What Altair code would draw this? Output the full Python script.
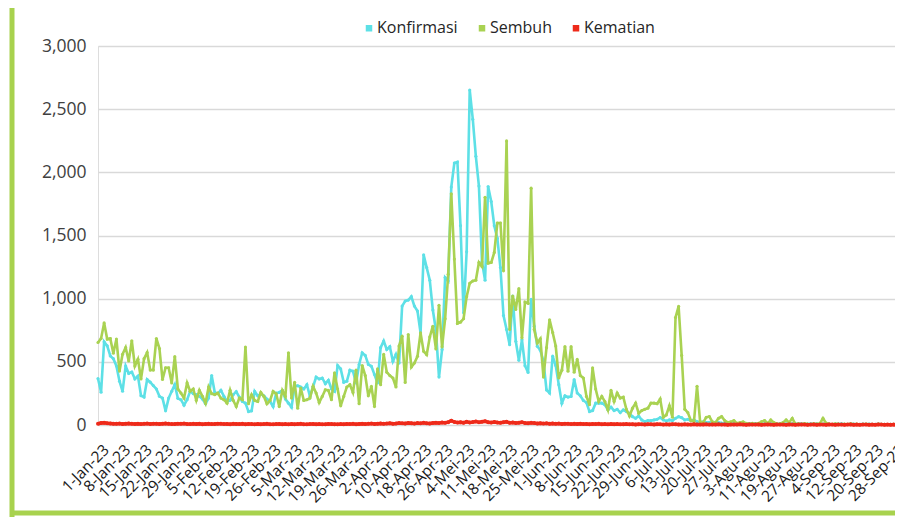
import altair as alt
import pandas as pd

tick_labels = ["1-Jan-23", "8-Jan-23", "15-Jan-23", "22-Jan-23", "29-Jan-23", "5-Feb-23",
               "12-Feb-23", "19-Feb-23", "26-Feb-23", "5-Mar-23", "12-Mar-23", "19-Mar-23",
               "26-Mar-23", "2-Apr-23", "10-Apr-23", "18-Apr-23", "26-Apr-23", "4-Mei-23",
               "11-Mei-23", "18-Mei-23", "25-Mei-23", "1-Jun-23", "8-Jun-23", "15-Jun-23",
               "22-Jun-23", "29-Jun-23", "6-Jul-23", "13-Jul-23", "20-Jul-23", "27-Jul-23",
               "3-Agu-23", "11-Agu-23", "19-Agu-23", "27-Agu-23", "4-Sep-23", "12-Sep-23",
               "20-Sep-23", "28-Sep-23"]
tick_index = [0, 7, 14, 21, 28, 35, 42, 49, 56, 63, 70, 77, 84, 91, 98, 105, 112, 119,
              126, 133, 140, 147, 154, 161, 168, 175, 182, 189, 196, 203, 210, 217, 224,
              231, 238, 245, 252, 259]
y_ticks = [0, 500, 1000, 1500, 2000, 2500, 3000]

konfirmasi = [
    368, 259, 659, 627, 547, 525, 467, 347, 267, 467, 408, 419, 365, 387, 232, 221, 360, 339, 312, 285,
    227, 213, 112, 213, 267, 320, 211, 200, 157, 200, 267, 248, 240, 227, 205, 168, 213, 392, 259, 248,
    275, 227, 187, 195, 240, 264, 221,
    186, 173, 106, 112, 266, 231, 247, 231, 205, 186, 146, 253, 258, 274, 205, 173, 141, 306, 311, 301,
    285, 319, 226, 301, 380, 364, 372, 327, 354, 285, 266, 471, 444, 338, 346, 434, 426, 333, 479, 572,
    551, 479, 465, 399, 333, 612, 665, 598, 620, 505, 560, 490,
    941, 981, 989, 1016, 941, 902, 729, 1347, 1246, 1146, 910, 750, 379, 597, 1167, 1140, 1883, 2074,
    2082, 1578, 888, 1371, 2652, 2421, 2127, 1891, 1292, 1146, 1888, 1769, 1578, 1477, 1246, 867, 756,
    636, 1021, 663, 512, 676, 469, 416, 994, 782, 623, 591, 504, 278,
    253, 545, 471, 319, 173, 231, 221, 226, 359, 253, 231, 194, 178, 106, 114, 173, 173, 173, 160, 120,
    141, 114, 125, 98, 120, 106, 93, 66, 53, 72, 40, 27, 35, 35, 40, 45, 59, 40, 32, 40, 35, 53, 66, 58,
    40, 45, 35, 40, 27, 20, 25, 20, 22, 15,
    18, 20, 15, 12, 18, 15, 10, 12, 15, 10, 12, 9, 14, 11, 8, 12, 10, 13, 9, 11,
    8, 10, 12, 9, 7, 10, 8, 11, 9, 7, 8, 10, 7, 9, 6, 8, 10, 7, 6, 8,
    7, 9, 6, 5, 7, 8, 6, 5, 7, 6, 8, 5, 6, 7, 5, 6, 4, 6, 5, 7, 5, 4,
]

sembuh = [
    653, 685, 808, 680, 685, 568, 680, 427, 560, 613, 507, 667, 467, 520, 365, 525, 573, 435, 435, 685,
    605, 360, 453, 453, 333, 541, 285, 253, 213, 333, 267, 285, 195, 275, 227, 173, 301, 248, 240, 253,
    213, 200, 173, 275, 195, 147, 213,
    200, 617, 168, 239, 194, 186, 258, 226, 168, 194, 266, 247, 146, 274, 226, 572, 213, 338, 133, 293,
    194, 200, 213, 306, 253, 178, 226, 279, 274, 200, 412, 285, 152, 226, 301, 319, 258, 434, 168, 471,
    391, 231, 306, 146, 444, 319, 559, 418, 391, 372, 301, 625,
    703, 337, 716, 459, 491, 544, 729, 583, 557, 697, 782, 602, 947, 618, 841, 1193, 1830, 1313, 804,
    814, 841, 1016, 1122, 1140, 1146, 1286, 1254, 1803, 1281, 1286, 1366, 1599, 1599, 1220, 2249, 756,
    1021, 915, 1079, 690, 973, 963, 1875, 756, 650, 682, 379, 612,
    833, 732, 625, 372, 434, 620, 426, 620, 418, 519, 391, 372, 226, 160, 452, 285, 186, 226, 186, 120,
    274, 186, 253, 213, 221, 125, 72, 133, 173, 93, 114, 125, 133, 173, 173, 168, 205, 61, 80, 152, 61,
    851, 939, 551, 125, 98, 35, 27, 306, 27, 20, 61, 67, 25,
    20, 53, 67, 35, 20, 25, 35, 13, 20, 25, 13, 8, 13, 8, 13, 27, 35, 13, 40, 20,
    8, 8, 20, 40, 20, 53, 8, 10, 6, 12, 8, 5, 9, 7, 12, 53, 15, 8, 6, 10,
    7, 5, 8, 6, 9, 5, 7, 4, 6, 8, 5, 6, 4, 7, 5, 6, 4, 5, 6, 4, 5, 3,
]

kematian = [
    10, 16, 18, 14, 12, 10, 9, 11, 8, 10, 12, 9, 8, 10, 7, 9, 11, 8, 10, 9,
    8, 10, 12, 9, 7, 8, 10, 9, 11, 8, 7, 9, 8, 10, 6, 8, 9, 7, 8, 10,
    9, 7, 8, 6, 9, 8, 7, 9, 6, 8, 7, 5, 8, 6, 7, 9, 6, 5, 7, 8,
    6, 7, 5, 8, 6, 7, 9, 6, 5, 7, 8, 6, 7, 5, 6, 8, 7, 6, 5, 7,
    6, 8, 7, 9, 6, 8, 10, 7, 9, 11, 8, 10, 12, 9, 11, 14, 10, 12, 15, 13,
    12, 16, 14, 11, 15, 13, 17, 14, 12, 16, 18, 15, 20, 17, 22, 34, 24, 19, 22, 18,
    25, 20, 23, 28, 21, 26, 30, 22, 19, 24, 20, 18, 22, 25, 17, 20, 16, 18, 22, 15,
    14, 17, 15, 12, 14, 11, 13, 10, 12, 9, 11, 8, 10, 9, 7, 9, 8, 10, 7, 8,
    6, 8, 7, 9, 6, 7, 5, 8, 6, 7, 5, 6, 7, 5, 6, 4, 6, 5, 4, 6,
    5, 4, 6, 5, 3, 5, 4, 6, 5, 4, 3, 5, 4, 3, 5, 4, 3, 4, 5, 3,
    4, 3, 5, 3, 4, 2, 3, 4, 3, 5, 3, 2, 4, 3, 3, 4, 2, 3, 4, 3,
    2, 4, 3, 3, 2, 4, 3, 2, 3, 4, 3, 2, 3, 4, 2, 3, 3, 2, 4, 3,
    2, 3, 3, 2, 3, 4, 2, 3, 2, 3, 3, 2, 3, 2, 4, 3, 2, 3, 2, 3,
    2, 3, 3,
]

series_names = ["Konfirmasi", "Sembuh", "Kematian"]
series_colors = ["#5de0e6", "#a9d252", "#ee2a1a"]

rows = []
for name, vals in zip(series_names, [konfirmasi, sembuh, kematian]):
    for i, v in enumerate(vals):
        rows.append({"idx": i, "series": name, "value": v})
df = pd.DataFrame(rows)

PLOT_W = 797
STEP = 3.072  # pixels per category in the reference
x_max = PLOT_W / STEP
label_arr = "[" + ",".join("'" + t + "'" for t in tick_labels) + "]"
FONT = "Open Sans"

x_enc = alt.X(
    "idx:Q",
    scale=alt.Scale(domain=[0, x_max], nice=False, zero=False),
    axis=alt.Axis(
        values=tick_index,
        labelExpr=label_arr + "[round(datum.value/7)]",
        labelAngle=315, labelAlign="right", labelBaseline="middle",
        labelFontSize=15.5, labelFont=FONT, labelColor="#1a1a1a",
        labelPadding=22, labelOffset=8, labelOverlap=False, labelBound=False,
        ticks=False, domain=False, grid=False, title=None,
    ),
)
y_enc = alt.Y(
    "value:Q",
    scale=alt.Scale(domain=[0, 3000], nice=False),
    axis=alt.Axis(
        values=y_ticks,
        labelExpr="format(datum.value, ',.0f')",
        labelFontSize=17.5, labelFont=FONT, labelColor="#404040",
        labelPadding=12, ticks=False, domain=False,
        grid=True, gridColor="#d9d9d9", gridWidth=1.5, title=None,
    ),
)
color_enc = alt.Color(
    "series:N",
    scale=alt.Scale(domain=series_names, range=series_colors),
    legend=alt.Legend(
        title=None, orient="none", legendX=263, legendY=-26, direction="horizontal",
        symbolType="square", symbolSize=9, symbolStrokeWidth=3.5,
        labelFontSize=16, labelFont=FONT, labelColor="#262626",
        columnPadding=15, labelOffset=0,
    ),
)

layers = []
for name in series_names:
    sw = 3.4 if name == "Kematian" else 2.6
    ps = 16 if name == "Kematian" else 10
    layers.append(
        alt.Chart(df)
        .transform_filter(alt.datum.series == name)
        .mark_line(strokeWidth=sw, point=alt.OverlayMarkDef(size=ps, filled=True))
        .encode(x=x_enc, y=y_enc, color=color_enc)
    )

deco = pd.DataFrame({"a": [0]})
green = "#a8d24e"
left_bar = alt.Chart(deco).mark_rule(color=green, strokeWidth=5).encode(
    x=alt.value(-86), y=alt.value(-50), y2=alt.value(472))
bottom_bar = alt.Chart(deco).mark_rule(color=green, strokeWidth=5).encode(
    x=alt.value(-88), x2=alt.value(PLOT_W + 5), y=alt.value(467))

chart = alt.layer(*layers, left_bar, bottom_bar).properties(
    width=PLOT_W, height=379,
    padding={"left": 90, "top": 38, "right": 0, "bottom": 92},
    autosize=alt.AutoSizeParams(type="none"),
).configure_view(stroke=None).configure(background="white")

chart.save("out.html", embed_options={"renderer": "svg", "actions": False})
